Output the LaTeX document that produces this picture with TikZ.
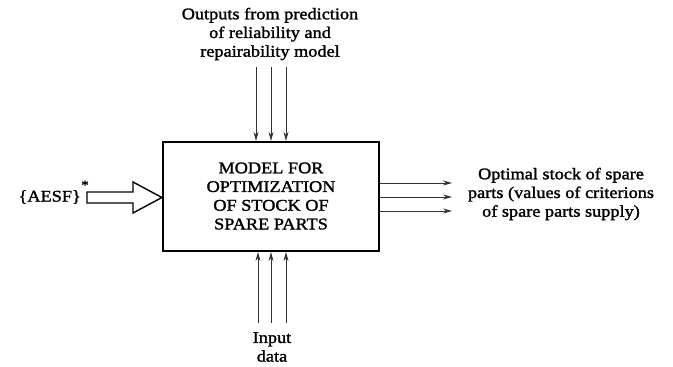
\documentclass[tikz,border=0pt]{standalone}
\usepackage{fontspec}
\setmainfont{Liberation Serif}[FakeStretch=1.12,FakeBold=1.6]
\usetikzlibrary{arrows.meta}
\begin{document}
\begin{tikzpicture}[x=1pt,y=-1pt,
  lbl/.style={align=center,font=\fontsize{16.3}{18.7}\selectfont,inner sep=0pt},
  arr/.style={-{Stealth[length=9pt,width=5pt]},line width=0.8pt,draw=black!80},
  boxst/.style={draw,line width=2.2pt,minimum width=216pt,minimum height=109pt,inner sep=0pt}]
\useasboundingbox (0,0) rectangle (673,367);
\node[boxst] (box) at (271,196.5) {};
\node[lbl] (boxtxt) at (271,196) {MODEL FOR\\OPTIMIZATION\\OF STOCK OF\\SPARE PARTS};
\node[lbl] (top) at (270,34) {Outputs from prediction\\of reliability and\\repairability model};
\node[lbl] (bot) at (272,347) {Input\\data};
\node[lbl] (right) at (561,194) {Optimal stock of spare\\parts (values of criterions\\of spare parts supply)};
\node[lbl,anchor=east] (left) at (81,197) {\{AESF\}};
\node[font=\fontsize{13}{13}\selectfont,inner sep=0pt] (star) at (85,185) {*};
% top arrows
\foreach \i/\xx in {1/256,2/271,3/286}{
  \coordinate (t\i) at (\xx,67);
  \draw[arr] (t\i) -- (t\i |- box.north);
}
% bottom arrows
\foreach \i/\xx in {1/258,2/271,3/286}{
  \coordinate (b\i) at (\xx,323);
  \draw[arr] (b\i) -- (b\i |- box.south);
}
% right arrows
\foreach \i/\yy in {1/183,2/197,3/211}{
  \coordinate (r\i) at (452,\yy);
  \draw[arr] (r\i -| box.east) -- (r\i);
}
% hollow arrow
\coordinate (ha) at (87,197.5);
\draw[line width=1.4pt,line join=miter] (ha) ++(0,-5.5) -- ++(46,0) -- ++(0,-10) -- (box.west |- ha) -- (133,213) -- (133,203) -- (87,203) -- cycle;
\end{tikzpicture}
\end{document}
